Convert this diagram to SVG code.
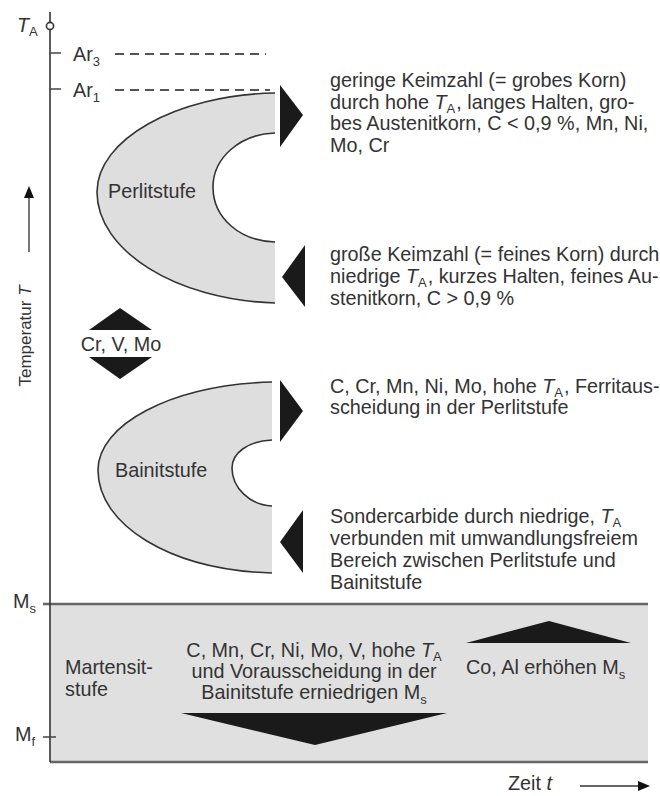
<svg xmlns="http://www.w3.org/2000/svg" width="660" height="796" viewBox="0 0 660 796">
<style>
text{font-family:"Liberation Sans",Arial,sans-serif;font-size:19.8px;fill:#333}
.it{font-style:italic}
.sub{font-size:13px}
.region{fill:#dedede;stroke:none}
.edge{fill:none;stroke:#333;stroke-width:1.6}
.tri{fill:#1a1a1a}
.dash{stroke:#555;stroke-width:1.8;stroke-dasharray:9,6}
.tick{stroke:#444;stroke-width:1.5}
</style>
<rect width="660" height="796" fill="#fff"/>

<g id="martensit-region">
  <rect x="50" y="604" width="598" height="158" fill="#e0e0e0"/>
  <line x1="43" y1="604" x2="648" y2="604" stroke="#666" stroke-width="2.5"/>
  <line x1="50" y1="762" x2="648" y2="762" stroke="#666" stroke-width="2.5"/>
  <text x="65" y="674">Martensit-</text>
  <text x="65" y="696">stufe</text>
</g>

<g id="axes">
  <line x1="50" y1="12" x2="50" y2="762" stroke="#333" stroke-width="1.6"/>
  <circle cx="50" cy="26" r="3.6" fill="#fff" stroke="#333" stroke-width="1.6"/>
  <text x="17" y="32"><tspan class="it">T</tspan><tspan class="sub" dy="4">A</tspan></text>
  <line class="tick" x1="50" y1="53" x2="61" y2="53"/>
  <text x="73" y="61">Ar<tspan class="sub" dy="5">3</tspan></text>
  <line class="dash" x1="115" y1="54" x2="266" y2="54"/>
  <line class="tick" x1="50" y1="89" x2="61" y2="89"/>
  <text x="73" y="97">Ar<tspan class="sub" dy="5">1</tspan></text>
  <line class="dash" x1="115" y1="90" x2="270" y2="90"/>
  <text x="13" y="608">M<tspan class="sub" dy="5">s</tspan></text>
  <line class="tick" x1="43" y1="737" x2="56" y2="737"/>
  <text x="15" y="741">M<tspan class="sub" dy="5">f</tspan></text>
  <text transform="translate(31,336) rotate(-90)" text-anchor="middle" style="font-size:17px">Temperatur <tspan class="it">T</tspan></text>
  <line x1="29" y1="252" x2="29" y2="196" stroke="#555" stroke-width="1.6"/>
  <polygon points="29,186 24,198 34,198" fill="#111"/>
  <text x="508" y="790">Zeit <tspan class="it">t</tspan></text>
  <line x1="580" y1="786" x2="640" y2="786" stroke="#333" stroke-width="1.6"/>
  <polygon points="650,786 638,781 638,791" fill="#111"/>
</g>

<g id="perlitstufe">
  <path class="region" d="M275,93 C175,95 97,140 97,192 C97,250 175,300 275,303 L275,242 C240,241 213,218 213,187 C213,158 240,134 275,133 Z"/>
  <path class="edge" d="M275,93 C175,95 97,140 97,192 C97,250 175,300 275,303"/>
  <path class="edge" d="M275,133 C240,134 213,158 213,187 C213,218 240,241 275,242"/>
  <text x="108" y="198">Perlitstufe</text>
</g>

<g id="bainitstufe">
  <path class="region" d="M272,382 C170,385 98,425 98,470 C98,525 170,570 272,573 L272,506 C250,505 232,488 232,468 C232,453 248,441 272,440 Z"/>
  <path class="edge" d="M272,382 C170,385 98,425 98,470 C98,525 170,570 272,573"/>
  <path class="edge" d="M272,440 C248,441 232,453 232,468 C232,488 250,505 272,506"/>
  <text x="115" y="477">Bainitstufe</text>
</g>

<g id="cr-v-mo">
  <polygon class="tri" points="120,308 152,330 89,330"/>
  <polygon class="tri" points="89,357 152,357 120,379"/>
  <text x="121" y="351" text-anchor="middle">Cr, V, Mo</text>
</g>

<g id="note-coarse">
  <polygon class="tri" points="280,85 303,115 280,147"/>
  <text x="330" y="87">geringe Keimzahl (= grobes Korn)</text>
  <text x="330" y="109">durch hohe <tspan class="it">T</tspan><tspan class="sub" dy="4">A</tspan><tspan dx="1" dy="-4">, langes Halten, gro-</tspan></text>
  <text x="330" y="130">bes Austenitkorn, C &lt; 0,9 %, Mn, Ni,</text>
  <text x="330" y="152">Mo, Cr</text>
</g>

<g id="note-fine">
  <polygon class="tri" points="305,245 282,277 305,307"/>
  <text x="330" y="261">große Keimzahl (= feines Korn) durch</text>
  <text x="330" y="283">niedrige <tspan class="it">T</tspan><tspan class="sub" dy="4">A</tspan><tspan dx="1" dy="-4">, kurzes Halten, feines Au-</tspan></text>
  <text x="330" y="305">stenitkorn, C &gt; 0,9 %</text>
</g>

<g id="note-bainit-right">
  <polygon class="tri" points="280,380 303,411 280,442"/>
  <text x="330" y="393">C, Cr, Mn, Ni, Mo, hohe <tspan class="it">T</tspan><tspan class="sub" dy="4">A</tspan><tspan dx="1" dy="-4">, Ferritaus-</tspan></text>
  <text x="330" y="414">scheidung in der Perlitstufe</text>
</g>

<g id="note-bainit-left">
  <polygon class="tri" points="303,510 280,542 303,573"/>
  <text x="330" y="523">Sondercarbide durch niedrige, <tspan class="it">T</tspan><tspan class="sub" dy="4">A</tspan></text>
  <text x="330" y="545">verbunden mit umwandlungsfreiem</text>
  <text x="330" y="567">Bereich zwischen Perlitstufe und</text>
  <text x="330" y="589">Bainitstufe</text>
</g>

<g id="ms-lower">
  <text x="314" y="657" text-anchor="middle">C, Mn, Cr, Ni, Mo, V, hohe <tspan class="it">T</tspan><tspan class="sub" dy="4">A</tspan></text>
  <text x="314" y="678" text-anchor="middle">und Vorausscheidung in der</text>
  <text x="314" y="699" text-anchor="middle">Bainitstufe erniedrigen M<tspan class="sub" dy="5">s</tspan></text>
  <polygon class="tri" points="181,713 447,713 315,745"/>
</g>

<g id="ms-raise">
  <polygon class="tri" points="549,621 631,643 466,643"/>
  <text x="466" y="674">Co, Al erhöhen M<tspan class="sub" dy="5">s</tspan></text>
</g>
</svg>
